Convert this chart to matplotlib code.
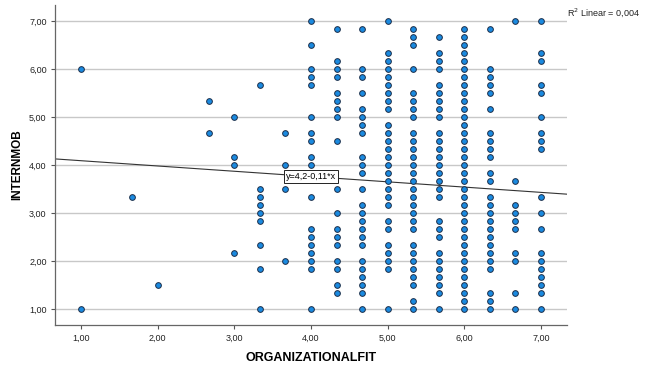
import matplotlib
matplotlib.use('Agg')
import matplotlib.pyplot as plt

plt.rcParams['font.family'] = ['Liberation Sans', 'DejaVu Sans']

# ORGANIZATIONALFIT column values and the INTERNMOB values seen in each column
fit_values = [1.0, 1.667, 2.0, 2.667, 3.0, 3.333, 3.667, 4.0, 4.333, 4.667,
              5.0, 5.333, 5.667, 6.0, 6.333, 6.667, 7.0]

c100 = [6.0, 1.0]
c167 = [3.333]
c200 = [1.5]
c267 = [5.333, 4.667]
c300 = [5.0, 4.167, 4.0, 2.167]
c333 = [5.667, 3.5, 3.333, 3.167, 3.0, 2.833, 2.333, 1.833, 1.0]
c367 = [4.667, 4.0, 3.5, 2.0]
c400 = [7.0, 6.5, 6.0, 5.833, 5.667, 5.0, 4.667, 4.5, 4.167, 4.0, 3.333,
        2.667, 2.5, 2.333, 2.167, 2.0, 1.833, 1.0]
c433 = [6.833, 6.167, 6.0, 5.833, 5.5, 5.333, 5.167, 5.0, 4.5, 3.5, 3.0,
        2.667, 2.5, 2.333, 2.0, 1.833, 1.5, 1.333]
c467 = [6.833, 6.0, 5.833, 5.5, 5.167, 5.0, 4.833, 4.667, 4.167, 4.0, 3.833,
        3.5, 3.167, 3.0, 2.833, 2.667, 2.5, 2.333, 2.0, 1.833, 1.667, 1.5,
        1.333, 1.0]
c500 = [7.0, 6.333, 6.167, 6.0, 5.833, 5.667, 5.5, 5.333, 5.167, 4.833,
        4.667, 4.5, 4.333, 4.167, 4.0, 3.833, 3.667, 3.5, 3.333, 3.167, 2.833,
        2.667, 2.333, 2.167, 2.0, 1.833, 1.0]
c533 = [6.833, 6.667, 6.5, 6.0, 5.5, 5.333, 5.167, 5.0, 4.667, 4.5, 4.333,
        4.167, 4.0, 3.833, 3.667, 3.5, 3.333, 3.167, 3.0, 2.833, 2.667, 2.333,
        2.167, 2.0, 1.833, 1.667, 1.5, 1.167, 1.0]
c567 = [6.667, 6.333, 6.167, 6.0, 5.667, 5.5, 5.333, 5.167, 5.0, 4.667, 4.5,
        4.333, 4.167, 4.0, 3.833, 3.667, 3.5, 3.333, 2.833, 2.667, 2.5, 2.167,
        2.0, 1.833, 1.667, 1.5, 1.333, 1.0]
c600 = [6.833, 6.667, 6.5, 6.333, 6.167, 6.0, 5.833, 5.667, 5.5, 5.333,
        5.167, 5.0, 4.833, 4.667, 4.5, 4.333, 4.167, 4.0, 3.833, 3.667, 3.5,
        3.333, 3.167, 3.0, 2.833, 2.667, 2.5, 2.333, 2.167, 2.0, 1.833, 1.667,
        1.5, 1.333, 1.167, 1.0]
c633 = [6.833, 6.0, 5.833, 5.667, 5.5, 5.167, 4.667, 4.5, 4.333, 4.167,
        3.833, 3.667, 3.333, 3.167, 3.0, 2.833, 2.667, 2.5, 2.333, 2.167, 2.0,
        1.833, 1.333, 1.167, 1.0]
c667 = [7.0, 3.667, 3.167, 3.0, 2.833, 2.667, 2.167, 2.0, 1.333, 1.0]
c700 = [7.0, 6.333, 6.167, 5.667, 5.5, 5.0, 4.667, 4.5, 4.333, 3.333, 3.0,
        2.667, 2.167, 2.0, 1.833, 1.667, 1.5, 1.333, 1.0]

columns = [c100, c167, c200, c267, c300, c333, c367, c400, c433, c467,
           c500, c533, c567, c600, c633, c667, c700]

# fit line reported by SPSS
intercept = 4.2
slope = -0.11
r2_text = 'R$^2$ Linear = 0,004'
eq_text = 'y=4,2-0,11*x'

tick_vals = [1, 2, 3, 4, 5, 6, 7]
tick_labels = ['1,00', '2,00', '3,00', '4,00', '5,00', '6,00', '7,00']

xs, ys = [], []
for xv, col in zip(fit_values, columns):
    for yv in col:
        xs.append(xv)
        ys.append(yv)

fig = plt.figure(figsize=(6.46, 3.69), dpi=100)
ax = fig.add_axes([0.0851, 0.1192, 0.7926, 0.8672])

xmin, xmax = 0.661, 7.339
ax.set_xlim(xmin, xmax)
ax.set_ylim(0.667, 7.333)

ax.grid(axis='y', color='#c8c8c8', linewidth=1.0)
ax.set_axisbelow(True)

ax.plot([xmin, xmax], [intercept + slope * xmin, intercept + slope * xmax],
        color='#333333', linewidth=0.8, zorder=2)

ax.scatter(xs, ys, s=17, color='#1a8ae0', edgecolors='#1c2f4a',
           linewidths=0.7, zorder=3)

xe = 4.0
ax.text(xe, intercept + slope * xe, eq_text, fontsize=6.5, ha='center',
        va='center', zorder=4,
        bbox=dict(boxstyle='square,pad=0.25', fc='white', ec='#222222',
                  lw=0.7))

ax.set_xticks(tick_vals)
ax.set_xticklabels(tick_labels)
ax.set_yticks(tick_vals)
ax.set_yticklabels(tick_labels)
ax.tick_params(labelsize=6.5, length=3, width=0.8, color='#555555',
               labelcolor='#222222', pad=3)

for side in ['top', 'right']:
    ax.spines[side].set_visible(False)
for side in ['left', 'bottom']:
    ax.spines[side].set_color('#666666')
    ax.spines[side].set_linewidth(0.9)

ax.set_xlabel('ORGANIZATIONALFIT', fontsize=9, fontweight='bold', labelpad=7)
ax.set_ylabel('INTERNMOB', fontsize=8.5, fontweight='bold', labelpad=4)

fig.text(567 / 646, 1 - 13 / 369, r2_text, fontsize=6.5, ha='left',
         va='center', color='#222222')

plt.savefig('out.png', dpi=100)
